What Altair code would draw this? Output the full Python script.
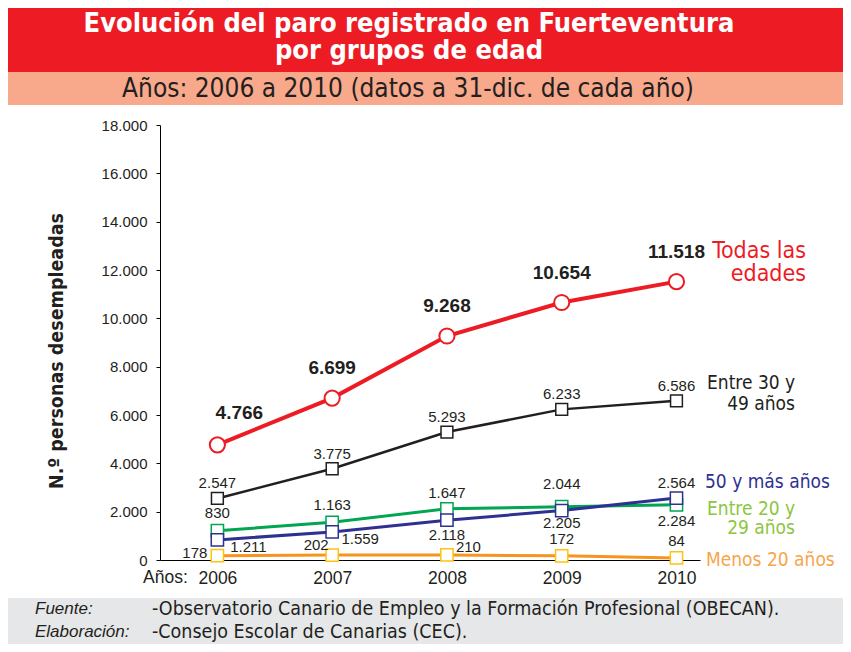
import altair as alt
import pandas as pd

# ---------------- data ----------------
years = [2006, 2007, 2008, 2009, 2010]
todas = [4766, 6699, 9268, 10654, 11518]
entre_30_49 = [2547, 3775, 5293, 6233, 6586]
mas_50 = [830, 1163, 1647, 2044, 2564]
entre_20_29 = [1211, 1559, 2118, 2205, 2284]
menos_20 = [178, 202, 210, 172, 84]
y_ticks = list(range(0, 18001, 2000))

title1 = "Evolución del paro registrado en Fuerteventura"
title2 = "por grupos de edad"
subtitle = "Años: 2006 a 2010 (datos a 31-dic. de cada año)"
y_title = "N.º personas desempleadas"
fuente_lbl = "Fuente:"
fuente_txt = "-Observatorio Canario de Empleo y la Formación Profesional (OBECAN)."
elab_lbl = "Elaboración:"
elab_txt = "-Consejo Escolar de Canarias (CEC)."

# ---------------- style ----------------
COND = "Liberation Sans Narrow, DejaVu Sans Condensed, Arial Narrow, sans-serif"
SANS = "Liberation Sans, Arial, sans-serif"
RED = "#ED1C24"
BLACK = "#231F20"
GREEN = "#00A651"
GREEN_T = "#8DC63F"
BLUE = "#2E3192"
ORANGE = "#F7941D"
ORANGE_T = "#F7A54A"
YELLOW = "#FFC20E"

W, H = 540, 435

X = alt.X("year:Q", scale=alt.Scale(domain=[2005.5, 2010.205], nice=False, zero=False),
          axis=alt.Axis(values=years, format="d", title=None, grid=False, ticks=False,
                        domainColor="black", labelFontSize=17.5, labelFont=SANS,
                        labelColor=BLACK, labelPadding=9))
Y = alt.Y("v:Q", scale=alt.Scale(domain=[0, 18000], nice=False),
          axis=alt.Axis(values=y_ticks, title=None, grid=False, tickSize=4,
                        tickColor="black", domainColor="black", labelFontSize=15,
                        labelFont=SANS, labelColor=BLACK, labelPadding=9,
                        labelExpr="replace(format(datum.value, ','), ',', '.')"))


def sdf(vals):
    return pd.DataFrame({"year": years, "v": vals})


def one(text):
    return pd.DataFrame({"t": [text]})


def rect(x, x2, y, y2, color):
    return alt.Chart(one("")).mark_rect(color=color).encode(
        x=alt.value(x), x2=alt.value(x2), y=alt.value(y), y2=alt.value(y2))


def txt(text, x, y, size, color, weight="normal", align="left", font=COND,
        style="normal", angle=0):
    return alt.Chart(one(text)).mark_text(
        align=align, baseline="middle", fontSize=size, fontWeight=weight,
        fontStyle=style, font=font, color=color, angle=angle).encode(
        x=alt.value(x), y=alt.value(y), text="t:N")


def line(vals, color, width):
    return alt.Chart(sdf(vals)).mark_line(color=color, strokeWidth=width).encode(x=X, y=Y)


def pts(vals, color, shape, size, sw):
    return alt.Chart(sdf(vals)).mark_point(
        shape=shape, filled=True, fill="white", stroke=color, strokeWidth=sw,
        size=size, opacity=1).encode(x=X, y=Y)


def lbl(vals, yrs, dx, dy, size=15, color=BLACK, weight="normal", align="center"):
    return alt.Chart(sdf(vals)).transform_filter(
        alt.FieldOneOfPredicate(field="year", oneOf=yrs)).transform_calculate(
        lbl="replace(format(datum.v, ','), ',', '.')").mark_text(
        dx=dx, dy=dy, align=align, baseline="middle", fontSize=size,
        fontWeight=weight, font=SANS, color=color).encode(x=X, y=Y, text="lbl:N")


layers = [
    # banners
    rect(-152, 683, -117, -53, RED),
    rect(-152, 683, -53, -20, "#F8A98C"),
    rect(-152, 683, 473, 519, "#E6E7E8"),
    txt(title1, 249, -101, 27, "white", weight="bold", align="center"),
    txt(title2, 249, -74, 27, "white", weight="bold", align="center"),
    txt(subtitle, 248, -36, 26, BLACK, align="center"),
    txt(y_title, -103, 226, 19.5, BLACK, weight="bold", angle=270, align="center"),
    txt("Años:", -17, 453, 17.5, BLACK, font=SANS),
    # footer
    txt(fuente_lbl, -125, 484, 17, BLACK, font=SANS, style="italic"),
    txt(fuente_txt, -8, 484, 19.5, BLACK),
    txt(elab_lbl, -125, 507, 17, BLACK, font=SANS, style="italic"),
    txt(elab_txt, -8, 507, 19.5, BLACK),
    # lines
    line(menos_20, ORANGE, 3),
    line(entre_20_29, GREEN, 3),
    line(mas_50, BLUE, 3),
    line(entre_30_49, BLACK, 2.5),
    line(todas, RED, 4),
    pts(menos_20, YELLOW, "square", 150, 1.5),
    pts(entre_20_29, GREEN, "square", 150, 1.5),
    pts(mas_50, BLUE, "square", 150, 1.5),
    pts(entre_30_49, BLACK, "square", 140, 1.5),
    pts(todas, RED, "circle", 230, 2),
    # value labels
    lbl(todas, [2006], 22, -32, size=19, weight="bold"),
    lbl(todas, [2007, 2008, 2009, 2010], 0, -30, size=19, weight="bold"),
    lbl(entre_30_49, years, 0, -15),
    lbl(mas_50, [2006, 2007, 2008, 2009], 0, -27),
    lbl(mas_50, [2010], 0, -15),
    lbl(entre_20_29, [2006], 31, 16),
    lbl(entre_20_29, [2007], 28, 17),
    lbl(entre_20_29, [2008], 0, 26),
    lbl(entre_20_29, [2009, 2010], 0, 16),
    lbl(menos_20, [2006], -10, -3, align="right"),
    lbl(menos_20, [2007], -16, -10),
    lbl(menos_20, [2008], 9, -8, align="left"),
    lbl(menos_20, [2009, 2010], 0, -17),
    # series labels
    txt("Todas las", 646, 126, 23, RED, align="right"),
    txt("edades", 646, 149, 23, RED, align="right"),
    txt("Entre 30 y", 547, 258, 19, BLACK),
    txt("49 años", 635, 279, 19, BLACK, align="right"),
    txt("50 y más años", 545, 357, 19, BLUE),
    txt("Entre 20 y", 547, 384, 19, GREEN_T),
    txt("29 años", 635, 403, 19, GREEN_T, align="right"),
    txt("Menos 20 años", 546, 435, 19, ORANGE_T),
]

chart = alt.layer(*layers).properties(
    width=W, height=H,
    autosize=alt.AutoSizeParams(type="none"),
    padding={"left": 152, "top": 117, "right": 143, "bottom": 84},
).configure_view(stroke=None, clip=False)

chart.save("out.html", embed_options={"renderer": "svg", "actions": False})
